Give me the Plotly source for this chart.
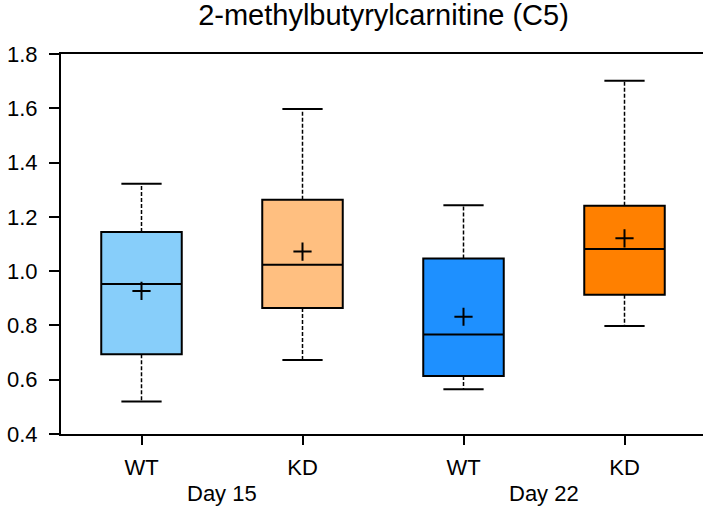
import plotly.graph_objs as go

# Box statistics
groups = ["Day 15", "Day 15", "Day 22", "Day 22"]
genotypes = ["WT", "KD", "WT", "KD"]
lower_whisker = [0.520, 0.673, 0.565, 0.798]
q1 = [0.694, 0.864, 0.614, 0.913]
median = [0.953, 1.024, 0.767, 1.082]
q3 = [1.144, 1.263, 1.047, 1.241]
upper_whisker = [1.322, 1.597, 1.243, 1.701]
mean = [0.927, 1.072, 0.832, 1.121]

colors = ["#87CEFA", "#FFBF80", "#1E90FF", "#FF8000"]
day_labels = ["Day 15", "Day 22"]

font_family = "Liberation Sans, Arial, sans-serif"
box_width = 0.5
cap_half = 0.125


def main():
    fig = go.Figure()
    positions = list(range(len(genotypes)))

    for i in positions:
        # Whiskers (dashed)
        fig.add_trace(go.Scatter(
            x=[i, i, None, i, i],
            y=[q3[i], upper_whisker[i], None, q1[i], lower_whisker[i]],
            mode="lines",
            line=dict(color="black", width=1.5, dash="4px,2px"),
            showlegend=False,
            hoverinfo="skip",
        ))
        # Whisker caps
        fig.add_trace(go.Scatter(
            x=[i - cap_half, i + cap_half, None, i - cap_half, i + cap_half],
            y=[upper_whisker[i], upper_whisker[i], None, lower_whisker[i], lower_whisker[i]],
            mode="lines",
            line=dict(color="black", width=2),
            showlegend=False,
            hoverinfo="skip",
        ))
        # Box
        fig.add_trace(go.Box(
            x=[i],
            q1=[q1[i]],
            median=[median[i]],
            q3=[q3[i]],
            lowerfence=[q1[i]],
            upperfence=[q3[i]],
            width=box_width,
            whiskerwidth=0,
            fillcolor=colors[i],
            line=dict(color="black", width=2),
            showlegend=False,
            name=groups[i] + " " + genotypes[i],
        ))

    # Means
    fig.add_trace(go.Scatter(
        x=positions,
        y=mean,
        mode="markers",
        marker=dict(symbol="cross-thin", size=13, line=dict(color="black", width=2)),
        showlegend=False,
    ))

    annotations = []
    for k, label in enumerate(day_labels):
        annotations.append(dict(
            x=2 * k + 0.5, y=-0.194, xref="x", yref="paper",
            text=label, showarrow=False,
            font=dict(family=font_family, size=22, color="black"),
        ))

    fig.update_layout(
        width=705,
        height=518,
        margin=dict(l=61, r=0, t=54, b=84),
        paper_bgcolor="white",
        plot_bgcolor="white",
        font=dict(family=font_family, size=22, color="black"),
        title=dict(
            text="2-methylbutyrylcarnitine (C5)",
            x=383.5 / 705, xanchor="center", y=0.971, yanchor="middle",
            font=dict(family=font_family, size=29, color="black"),
        ),
        annotations=annotations,
    )

    fig.update_xaxes(
        range=[-0.5, 3.5],
        tickvals=positions,
        ticktext=genotypes,
        ticks="outside",
        ticklen=9,
        tickwidth=1.5,
        tickcolor="black",
        ticklabelstandoff=4,
        showline=True,
        linecolor="black",
        linewidth=2,
        mirror=True,
        showgrid=False,
        zeroline=False,
    )
    fig.update_yaxes(
        range=[0.4, 1.8],
        tickvals=[0.4, 0.6, 0.8, 1.0, 1.2, 1.4, 1.6, 1.8],
        tickformat=".1f",
        ticks="outside",
        ticklen=10,
        tickwidth=1.5,
        tickcolor="black",
        ticklabelstandoff=7,
        showline=True,
        linecolor="black",
        linewidth=2,
        showgrid=False,
        zeroline=False,
    )

    # drop the default page margin so the figure sits at the window corner
    fig.write_html(
        "out.html",
        config={"displayModeBar": False},
        post_script="document.body.style.margin='0';document.body.style.overflow='hidden';",
    )


if __name__ == "__main__":
    main()
